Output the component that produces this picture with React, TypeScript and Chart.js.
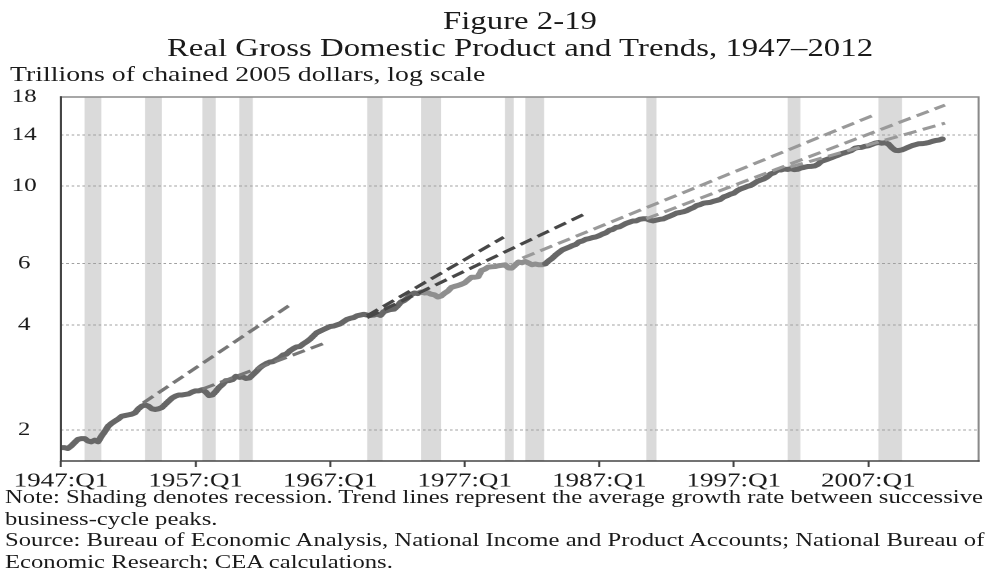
import React, { useEffect, useRef } from "react";
import { Chart, registerables } from "chart.js";

Chart.register(...registerables);

// ---------- data ----------
const FIRST_YEAR = 1947; // first quarter = 1947:Q1
// Real GDP, trillions of chained 2005 dollars, quarterly from 1947:Q1
const gdpQuarterly = [
  1.78, 1.78, 1.77, 1.8,
  1.84, 1.88, 1.89, 1.89,
  1.86, 1.85, 1.87, 1.85,
  1.92, 1.98, 2.05, 2.09,
  2.12, 2.15, 2.19, 2.2,
  2.21, 2.22, 2.24, 2.3,
  2.34, 2.36, 2.34, 2.3,
  2.29, 2.3, 2.32, 2.37,
  2.42, 2.47, 2.5, 2.52,
  2.52, 2.53, 2.54, 2.57,
  2.59, 2.59, 2.61, 2.57,
  2.51, 2.52, 2.58, 2.65,
  2.7, 2.77, 2.77, 2.79,
  2.85, 2.83, 2.84, 2.81,
  2.82, 2.88, 2.94, 3.01,
  3.06, 3.1, 3.13, 3.14,
  3.18, 3.22, 3.28, 3.3,
  3.37, 3.42, 3.46, 3.47,
  3.53, 3.58, 3.64, 3.72,
  3.8, 3.84, 3.88, 3.92,
  3.96, 3.97, 4.0, 4.03,
  4.09, 4.15, 4.18, 4.2,
  4.25, 4.27, 4.29, 4.27,
  4.26, 4.27, 4.3, 4.26,
  4.37, 4.4, 4.43, 4.44,
  4.53, 4.65, 4.7, 4.78,
  4.88, 4.94, 4.92, 4.97,
  4.94, 4.95, 4.9, 4.88,
  4.81, 4.84, 4.93, 5.0,
  5.12, 5.16, 5.19, 5.23,
  5.28, 5.38, 5.48, 5.48,
  5.5, 5.73, 5.78, 5.86,
  5.87, 5.88, 5.91, 5.93,
  5.95, 5.83, 5.82, 5.94,
  6.06, 6.03, 6.08, 6.02,
  5.95, 5.98, 5.95, 5.95,
  5.99, 6.11, 6.21, 6.34,
  6.45, 6.56, 6.62, 6.68,
  6.75, 6.8, 6.92, 6.96,
  7.04, 7.07, 7.12, 7.15,
  7.21, 7.29, 7.35, 7.47,
  7.51, 7.61, 7.64, 7.73,
  7.82, 7.88, 7.94, 7.95,
  8.03, 8.06, 8.06, 7.99,
  7.95, 7.99, 8.03, 8.05,
  8.13, 8.2, 8.28, 8.37,
  8.4, 8.44, 8.5, 8.6,
  8.68, 8.8, 8.85, 8.93,
  8.96, 8.98, 9.05, 9.1,
  9.16, 9.31, 9.38, 9.48,
  9.54, 9.7, 9.81, 9.89,
  9.98, 10.04, 10.17, 10.32,
  10.41, 10.49, 10.63, 10.84,
  10.92, 11.12, 11.12, 11.19,
  11.16, 11.21, 11.15, 11.17,
  11.27, 11.32, 11.38, 11.39,
  11.42, 11.54, 11.77, 11.86,
  11.95, 12.05, 12.16, 12.26,
  12.38, 12.46, 12.55, 12.65,
  12.84, 12.9, 12.91, 13.0,
  13.04, 13.16, 13.27, 13.33,
  13.27, 13.31, 13.19, 12.88,
  12.66, 12.64, 12.7, 12.81,
  12.94, 13.06, 13.14, 13.22,
  13.23, 13.27, 13.33, 13.43,
  13.51, 13.55, 13.65,
];

// NBER recessions (decimal years)
const recessionStarts = [1948.75, 1953.25, 1957.5, 1960.25, 1969.75, 1973.75, 1980.0, 1981.5, 1990.5, 2001.0, 2007.75];
const recessionEnds = [1950.0, 1954.5, 1958.5, 1961.25, 1970.9, 1975.25, 1980.65, 1982.9, 1991.25, 2001.95, 2009.5];

// Trend lines (peak-to-peak average growth, extended)
const trendStartYears = [1953.1, 1957.5, 1969.75, 1969.75, 1981.3, 1990.5, 2001.2];
const trendStartValues = [2.39, 2.62, 4.25, 4.2, 6.22, 8.06, 11.34];
const trendEndYears = [1964.0, 1966.6, 1979.9, 1986.2, 2007.4, 2012.7, 2012.7];
const trendEndValues = [4.56, 3.55, 7.14, 8.42, 15.97, 17.07, 15.15];

const xTickYears = [1947, 1957, 1967, 1977, 1987, 1997, 2007];
const yTickValues = [2, 4, 6, 10, 14, 18];
const X_MIN = 1947;
const X_MAX = 2015.2;
const Y_MIN = 1.63;
const Y_MAX = 18;

// ---------- layout ----------
const STRETCH = 1.35;
const W = 992 / STRETCH;
const FONT = '"Liberation Serif", "Times New Roman", serif';
const trendColors = ["#777777", "#777777", "#474747", "#474747", "#999999", "#999999", "#999999"];

const recessionPlugin = {
  id: "recessionShading",
  beforeDraw(chart: any) {
    const { ctx, chartArea, scales } = chart;
    const x = scales.x;
    ctx.save();
    ctx.fillStyle = "#dadada";
    recessionStarts.forEach((s, i) => {
      const x0 = x.getPixelForValue(s);
      const x1 = x.getPixelForValue(recessionEnds[i]);
      ctx.fillRect(x0, chartArea.top, x1 - x0, chartArea.bottom - chartArea.top);
    });
    ctx.restore();
  },
};

const framePlugin = {
  id: "frame",
  afterDatasetsDraw(chart: any) {
    const { ctx, chartArea: a } = chart;
    ctx.save();
    ctx.lineCap = "square";
    ctx.strokeStyle = "#8a8a8a";
    ctx.lineWidth = 1.5;
    ctx.beginPath();
    ctx.moveTo(a.left, a.top);
    ctx.lineTo(a.right, a.top);
    ctx.lineTo(a.right, a.bottom);
    ctx.stroke();
    ctx.strokeStyle = "#444";
    ctx.lineWidth = 1.6;
    ctx.beginPath();
    ctx.moveTo(a.left, a.top);
    ctx.lineTo(a.left, a.bottom);
    ctx.lineTo(a.right, a.bottom);
    ctx.stroke();
    ctx.restore();
  },
};

export default function App() {
  const ref = useRef<HTMLCanvasElement>(null);

  useEffect(() => {
    const canvas = ref.current;
    if (!canvas) return;

    const gdpPoints = gdpQuarterly.map((v, i) => ({ x: FIRST_YEAR + i / 4, y: v }));
    const trendSets = trendStartYears.map((sy, i) => ({
      label: "trend" + i,
      data: [
        { x: sy, y: trendStartValues[i] },
        { x: trendEndYears[i], y: trendEndValues[i] },
      ],
      borderColor: trendColors[i],
      borderWidth: 3,
      borderDash: [10, 5],
      pointRadius: 0,
      fill: false,
    }));

    const chart = new Chart(canvas, {
      type: "line",
      data: {
        datasets: [
          ...trendSets,
          {
            label: "Real GDP",
            data: gdpPoints,
            borderColor: "#676767",
            borderWidth: 5,
            borderJoinStyle: "round",
            borderCapStyle: "round",
            pointRadius: 0,
            fill: false,
            segment: {
              borderColor: (c: any) =>
                c.p0.parsed.x >= 1973.75 && c.p0.parsed.x < 1983 ? "#8f8f8f" : "#676767",
            },
          },
        ] as any,
      },
      options: {
        animation: false,
        responsive: true,
        maintainAspectRatio: false,
        devicePixelRatio: 2,
        layout: { padding: { top: 17, right: W - 978 / STRETCH, left: 0, bottom: 0 } },
        plugins: {
          legend: { display: false },
          tooltip: { enabled: false },
          title: { display: false },
        },
        scales: {
          x: {
            type: "linear",
            min: X_MIN,
            max: X_MAX,
            afterBuildTicks: (axis: any) => {
              axis.ticks = xTickYears.map((v) => ({ value: v }));
            },
            afterFit: (scale: any) => {
              scale.height = 108;
            },
            ticks: {
              callback: (v: any) => `${v}:Q1`,
              font: { family: FONT, size: 20 },
              color: "#1a1a1a",
              padding: 2,
              maxRotation: 0,
              autoSkip: false,
            },
            grid: {
              display: true,
              drawOnChartArea: false,
              drawTicks: true,
              tickLength: 6,
              tickColor: "#444",
              tickWidth: 1.5,
            },
            border: { display: false },
          },
          y: {
            type: "logarithmic",
            min: Y_MIN,
            max: Y_MAX,
            afterBuildTicks: (axis: any) => {
              axis.ticks = yTickValues.map((v) => ({ value: v }));
            },
            afterFit: (scale: any) => {
              scale.width = 61 / STRETCH;
            },
            ticks: {
              callback: (v: any) => String(v),
              font: { family: FONT, size: 18.5 },
              color: "#1a1a1a",
              crossAlign: "center",
              padding: 0,
              autoSkip: false,
            },
            grid: {
              drawTicks: true,
              tickLength: 18,
              tickColor: "rgba(0,0,0,0)",
              lineWidth: 1,
              color: (c: any) => (c.tick && c.tick.value === 18 ? "rgba(0,0,0,0)" : "#a0a0a0"),
            },
            border: { display: false, dash: [2, 2] },
          },
        },
      } as any,
      plugins: [recessionPlugin, framePlugin],
    });

    return () => chart.destroy();
  }, []);

  const textBase: React.CSSProperties = {
    position: "absolute",
    whiteSpace: "nowrap",
    fontFamily: FONT,
    color: "#1a1a1a",
  };

  return (
    <div style={{ position: "absolute", left: 0, top: 0, width: 992, height: 569, overflow: "hidden", background: "#fff" }}>
      <div
        style={{
          position: "absolute",
          left: 0,
          top: 0,
          width: W,
          height: 569,
          transform: `scaleX(${STRETCH})`,
          transformOrigin: "0 0",
        }}
      >
        <div style={{ ...textBase, left: 0, width: (520 / STRETCH) * 2, top: 7, textAlign: "center", fontSize: 24.3, lineHeight: "27px" }}>
          Figure 2-19
          <br />
          Real Gross Domestic Product and Trends, 1947–2012
        </div>
        <div style={{ ...textBase, left: 10 / STRETCH, top: 63, fontSize: 20.6, lineHeight: "23px" }}>
          Trillions of chained 2005 dollars, log scale
        </div>
        <div style={{ position: "absolute", left: 0, top: 80, width: W, height: 489 }}>
          <canvas ref={ref} />
        </div>
        <div style={{ ...textBase, left: 5 / STRETCH, top: 487, fontSize: 18.3, lineHeight: "21.5px" }}>
          Note: Shading denotes recession. Trend lines represent the average growth rate between successive
          <br />
          business-cycle peaks.
          <br />
          Source: Bureau of Economic Analysis, National Income and Product Accounts; National Bureau of
          <br />
          Economic Research; CEA calculations.
        </div>
      </div>
    </div>
  );
}
